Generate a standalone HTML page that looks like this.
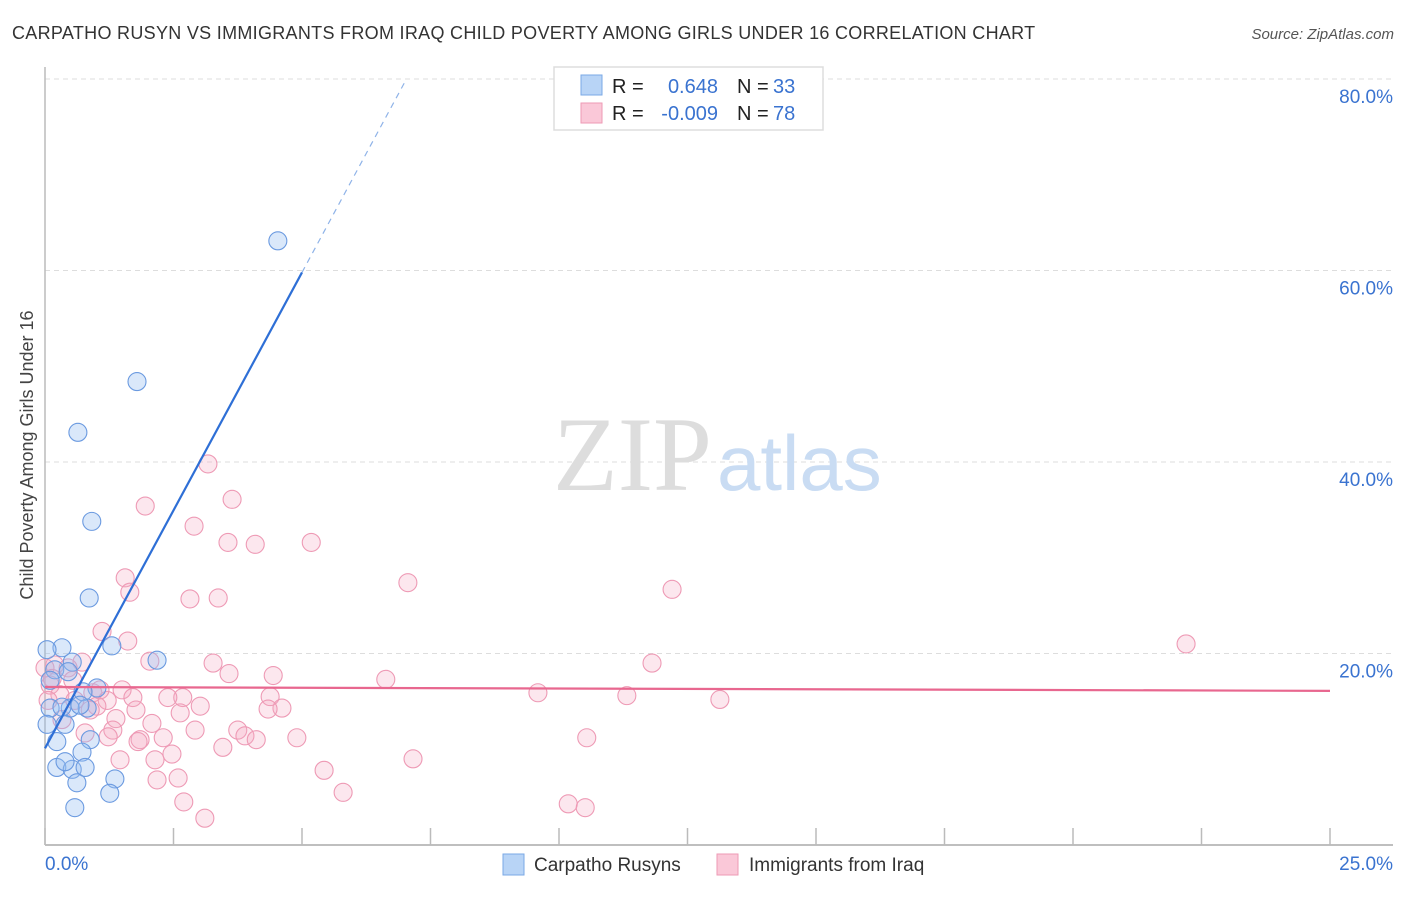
<!DOCTYPE html>
<html><head><meta charset="utf-8"><style>
body{margin:0;background:#fff;font-family:"Liberation Sans",sans-serif;}
svg text{font-family:"Liberation Sans",sans-serif;}
</style></head><body>
<svg id="chart" width="1406" height="892">
<text x="12" y="39" font-size="18" fill="#333" letter-spacing="0.3">CARPATHO RUSYN VS IMMIGRANTS FROM IRAQ CHILD POVERTY AMONG GIRLS UNDER 16 CORRELATION CHART</text>
<text x="1394" y="39" font-size="15" fill="#555" font-style="italic" text-anchor="end">Source: ZipAtlas.com</text>
<text transform="translate(33,455) rotate(-90)" font-size="18" fill="#444" text-anchor="middle">Child Poverty Among Girls Under 16</text>
<g id="grid"></g>
<text x="553" y="490" font-size="106" fill="#ddd" style="font-family:'Liberation Serif',serif">ZIP</text>
<text x="717" y="490" font-size="78" fill="#c9dcf3">atlas</text>
<g id="marks"></g>
<g>
<rect x="554" y="67" width="269" height="63" fill="#fff" stroke="#ddd" stroke-width="1.5"/>
<rect x="581" y="75" width="21" height="20" fill="#b8d4f6" stroke="#7aa8e6"/>
<rect x="581" y="103" width="21" height="20" fill="#fac8d8" stroke="#ee9ab5"/>
<text x="612" y="93" font-size="20" fill="#222">R =</text><text x="718" y="93" font-size="20" fill="#3a73d0" text-anchor="end">0.648</text>
<text x="737" y="93" font-size="20" fill="#222">N =</text><text x="773" y="93" font-size="20" fill="#3a73d0">33</text>
<text x="612" y="120" font-size="20" fill="#222">R =</text><text x="718" y="120" font-size="20" fill="#3a73d0" text-anchor="end">-0.009</text>
<text x="737" y="120" font-size="20" fill="#222">N =</text><text x="773" y="120" font-size="20" fill="#3a73d0">78</text>
</g>
<g>
<rect x="503" y="854" width="21" height="21" fill="#b8d4f6" stroke="#7aa8e6"/>
<text x="534" y="871" font-size="19" fill="#333">Carpatho Rusyns</text>
<rect x="717" y="854" width="21" height="21" fill="#fac8d8" stroke="#ee9ab5"/>
<text x="749" y="871" font-size="19" fill="#333">Immigrants from Iraq</text>
</g>
</svg>
<script>
const yTicks=[20,40,60,80];
const yTickLabels=["20.0%","40.0%","60.0%","80.0%"];
const xTickVals=[0,2.5,5,7.5,10,12.5,15,17.5,20,22.5,25];
const blueX=[4.53,1.79,0.64,0.91,0.86,1.30,2.18,0.33,0.04,0.19,0.53,0.45,1.01,0.74,0.10,0.82,0.49,0.39,0.04,0.23,0.88,0.72,0.23,0.53,0.78,0.39,1.36,0.62,1.26,0.58,0.33,0.10,0.68];
const blueY=[63.1,48.4,43.1,33.8,25.8,20.8,19.3,20.6,20.4,18.3,19.1,18.1,16.4,16.0,14.3,14.3,14.3,12.6,12.6,10.8,11.0,9.7,8.1,7.9,8.1,8.7,6.9,6.5,5.4,3.9,14.4,17.2,14.6];
const pinkX=[3.17,1.95,3.64,2.90,3.56,4.09,5.18,1.56,1.65,7.06,12.20,2.82,3.37,1.11,1.61,22.20,0.72,2.04,3.27,11.81,0.19,3.58,4.44,6.63,0.45,0.10,0.54,1.50,2.68,2.39,9.59,11.32,13.13,4.38,0.93,1.21,1.71,4.61,4.34,3.02,2.63,1.77,1.01,1.38,0.33,2.08,1.32,3.75,3.89,0.78,1.23,1.85,2.30,1.81,4.90,3.46,4.11,10.54,2.47,2.14,7.16,5.43,2.59,2.18,5.80,2.70,10.18,10.51,3.11,0.0,0.14,0.29,0.88,2.92,0.58,1.46,1.07,0.06];
const pinkY=[39.8,35.4,36.1,33.3,31.6,31.4,31.6,27.9,26.4,27.4,26.7,25.7,25.8,22.3,21.3,21.0,19.1,19.2,19.0,19.0,18.8,17.9,17.7,17.3,18.5,16.7,17.2,16.2,15.4,15.4,15.9,15.6,15.2,15.5,15.9,15.1,15.4,14.3,14.2,14.5,13.8,14.1,14.5,13.2,13.1,12.7,12.0,12.0,11.4,11.7,11.3,11.0,11.2,10.8,11.2,10.2,11.0,11.2,9.5,8.9,9.0,7.8,7.0,6.8,5.5,4.5,4.3,3.9,2.8,18.5,17.4,15.7,14.1,12.0,15.1,8.9,16.2,15.1];
const blueTrend=[10.1,9.94];
const pinkTrend=[16.5,-0.016];
const NS="http://www.w3.org/2000/svg";
const xs=v=>45+v*51.4;
const ys=v=>845-v*9.575;
function mk(tag,attrs,parent){const e=document.createElementNS(NS,tag);for(const k in attrs)e.setAttribute(k,attrs[k]);parent.appendChild(e);return e;}
const grid=document.getElementById('grid'),marks=document.getElementById('marks');
yTicks.forEach((t,i)=>{
 const l=mk('line',{x1:45,x2:1393,y1:ys(t),y2:ys(t),stroke:'#ddd','stroke-dasharray':'5,4'},grid);
 
 
 const tx=mk('text',{x:1393,y:ys(t)+24,'font-size':19,fill:'#3a73d0','text-anchor':'end'},grid);
 tx.textContent=yTickLabels[i];
 
 
});
const ax=mk('line',{x1:45,x2:1393,y1:845,y2:845,stroke:'#aaa','stroke-width':1.5},grid);


const ay=mk('line',{x1:45,x2:45,y1:67,y2:845,stroke:'#bbb','stroke-width':1.5},grid);


xTickVals.forEach(t=>{
 const l=mk('line',{x1:xs(t),x2:xs(t),y1:828,y2:845,stroke:'#bbb','stroke-width':1.5},grid);
 
 
});
[[0,"0.0%","start",45],[25,"25.0%","end",1393]].forEach(a=>{
 const tx=mk('text',{x:a[3],y:870,'font-size':19,fill:'#3a73d0','text-anchor':a[2]},grid);
 tx.textContent=a[1];
 
 
});
pinkX.forEach((x,i)=>{
 const c=mk('circle',{cx:xs(x),cy:ys(pinkY[i]),r:9,fill:'rgba(246,168,194,0.28)',stroke:'#ee9ab5','stroke-width':1.1},marks);
 
 
});
blueX.forEach((x,i)=>{
 const c=mk('circle',{cx:xs(x),cy:ys(blueY[i]),r:9,fill:'rgba(150,190,240,0.35)',stroke:'#6b9ae0','stroke-width':1.1},marks);
 
 
});
const bt=mk('line',{x1:xs(0),y1:ys(blueTrend[0]),x2:xs(5),y2:ys(blueTrend[0]+5*blueTrend[1]),stroke:'#2e6fd6','stroke-width':2.2},marks);


const bd=mk('line',{x1:xs(5),y1:ys(blueTrend[0]+5*blueTrend[1]),x2:xs(7),y2:ys(blueTrend[0]+7*blueTrend[1]),stroke:'#8fb3e8','stroke-width':1.2,'stroke-dasharray':'6,5'},marks);


const pt=mk('line',{x1:xs(0),y1:ys(pinkTrend[0]),x2:xs(25),y2:ys(pinkTrend[0]+25*pinkTrend[1]),stroke:'#e8678f','stroke-width':2.2},marks);


</script>
</body></html>
